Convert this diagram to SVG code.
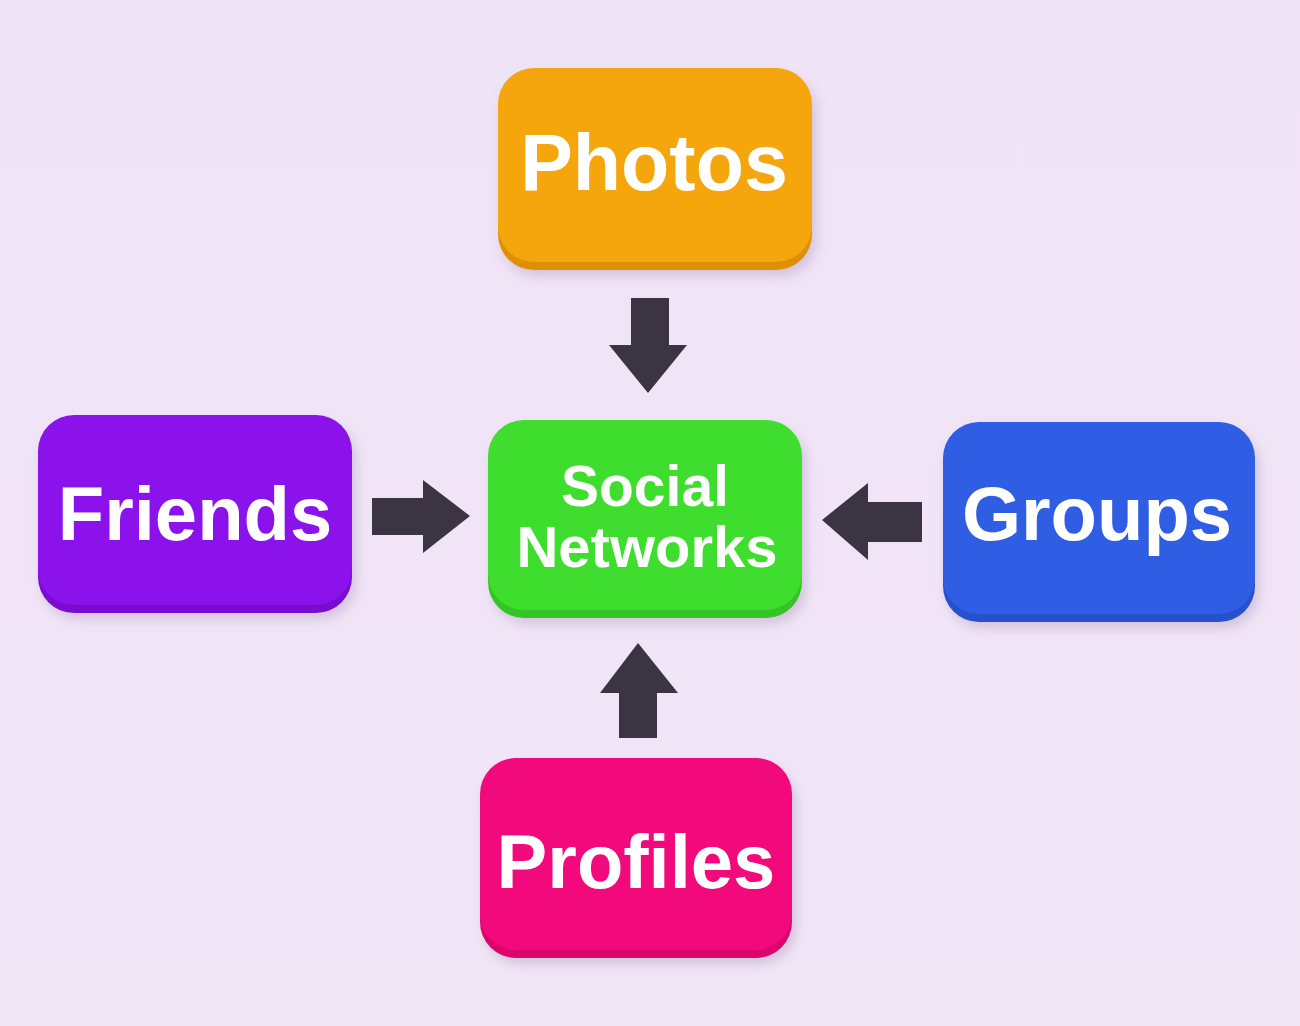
<svg xmlns="http://www.w3.org/2000/svg" width="1300" height="1026" viewBox="0 0 1300 1026">
  <defs>
    <filter id="shadow" x="-20%" y="-20%" width="140%" height="150%">
      <feGaussianBlur stdDeviation="6"/>
    </filter>
    <linearGradient id="bg" x1="0" y1="0" x2="0" y2="1">
      <stop offset="0" stop-color="#EFE3F6"/>
      <stop offset="1" stop-color="#F1E6F6"/>
    </linearGradient>
  </defs>
  <style>
    .lbl { font-family: "Liberation Sans", Arial, sans-serif; font-weight: bold; fill: #FFFFFF; text-anchor: middle; }
    .shadow { fill: #B9A6C6; opacity: 0.55; filter: url(#shadow); }
    .arrow { fill: #3B3442; }
  </style>
  <rect x="0" y="0" width="1300" height="1026" fill="url(#bg)"/>

  <g id="connectors">
    <polygon class="arrow" points="631,298 669,298 669,345 687,345 648,393 609,345 631,345"/>
    <polygon class="arrow" points="372,498 423,498 423,480 470,516 423,553 423,535 372,535"/>
    <polygon class="arrow" points="922,502 868,502 868,483 822,520 868,560 868,542 922,542"/>
    <polygon class="arrow" points="638,643 678,693 657,693 657,738 619,738 619,693 600,693"/>
  </g>

  <g id="node-photos">
    <rect class="shadow" x="502" y="76" width="314" height="200" rx="36"/>
    <rect x="498" y="76" width="314" height="194" rx="36" fill="#DE8F08"/>
    <rect x="498" y="68" width="314" height="194" rx="36" fill="#F5A60D"/>
    <text class="lbl" x="654" y="190" font-size="79">Photos</text>
  </g>

  <g id="node-social-networks">
    <rect class="shadow" x="492" y="428" width="314" height="196" rx="36"/>
    <rect x="488" y="428" width="314" height="190" rx="36" fill="#33C425"/>
    <rect x="488" y="420" width="314" height="190" rx="36" fill="#3EDD2E"/>
    <text class="lbl" x="645" y="506" font-size="57">Social</text>
    <text class="lbl" x="647" y="567" font-size="58">Networks</text>
  </g>

  <g id="node-friends">
    <rect class="shadow" x="42" y="423" width="314" height="196" rx="36"/>
    <rect x="38" y="423" width="314" height="190" rx="36" fill="#7A0CCF"/>
    <rect x="38" y="415" width="314" height="190" rx="36" fill="#8B12EA"/>
    <text class="lbl" x="195" y="540" font-size="76">Friends</text>
  </g>

  <g id="node-groups">
    <rect class="shadow" x="947" y="430" width="312" height="198" rx="36"/>
    <rect x="943" y="430" width="312" height="192" rx="36" fill="#2650CC"/>
    <rect x="943" y="422" width="312" height="192" rx="36" fill="#2F5DE3"/>
    <text class="lbl" x="1097" y="540" font-size="76">Groups</text>
  </g>

  <g id="node-profiles">
    <rect class="shadow" x="484" y="766" width="312" height="198" rx="36"/>
    <rect x="480" y="766" width="312" height="192" rx="36" fill="#D9076D"/>
    <rect x="480" y="758" width="312" height="192" rx="36" fill="#F20A7D"/>
    <text class="lbl" x="636" y="888" font-size="76">Profiles</text>
  </g>
</svg>
